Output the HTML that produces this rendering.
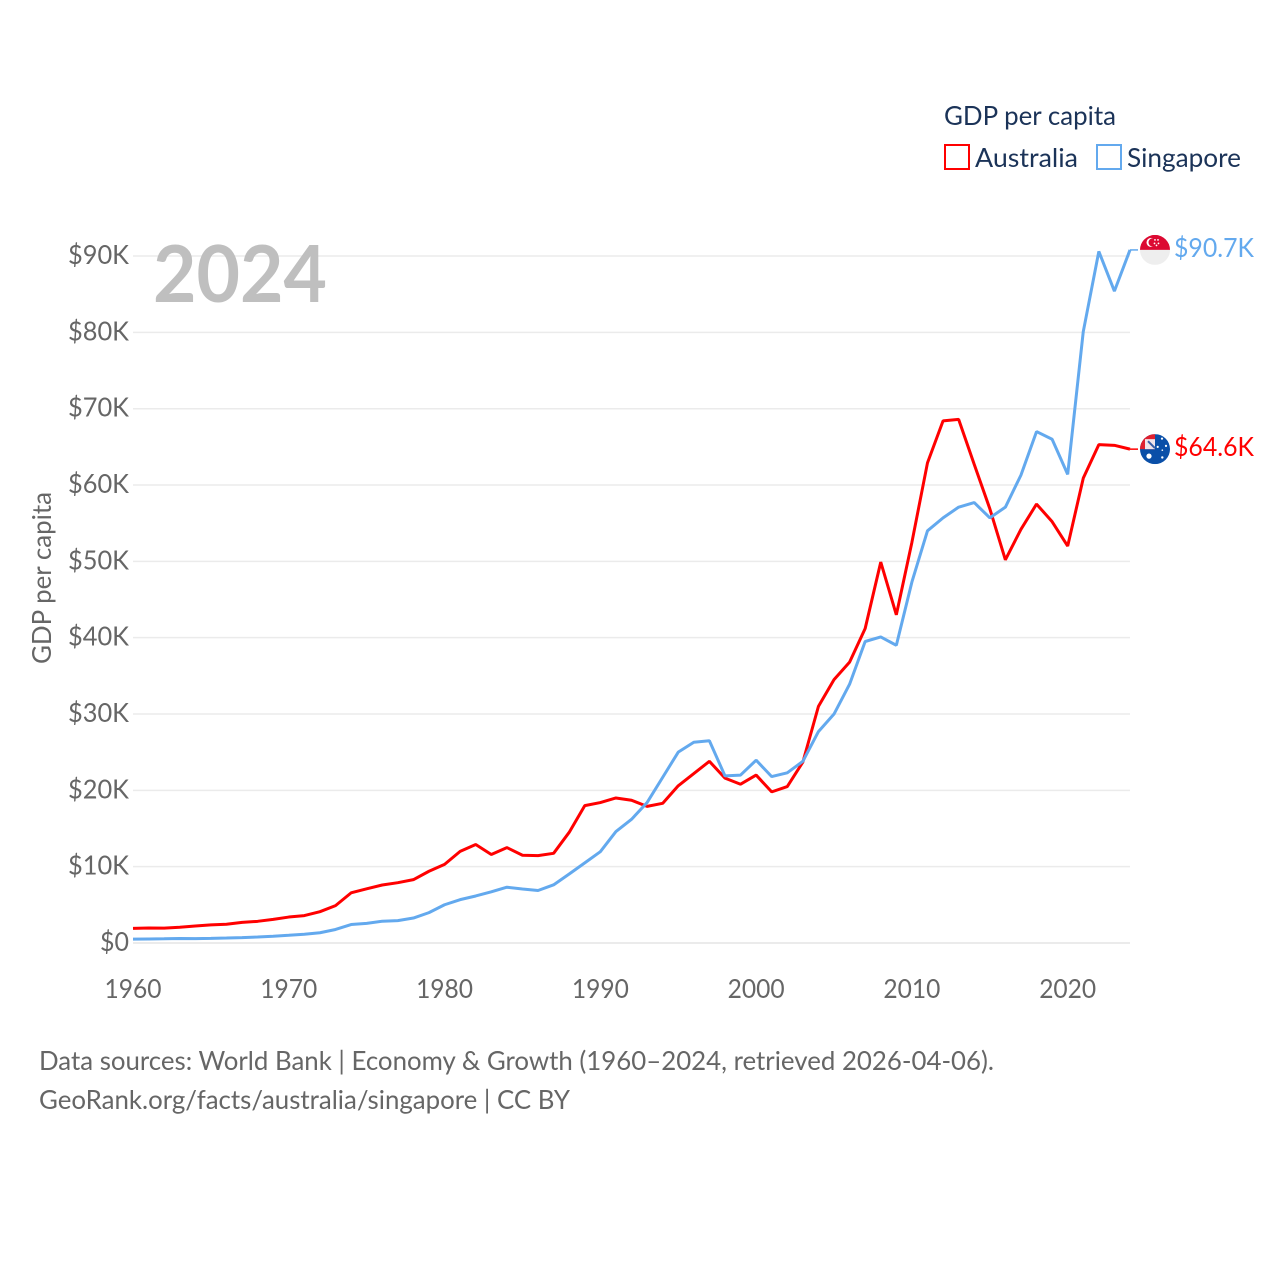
<!DOCTYPE html>
<html lang="en">
<head>
<meta charset="utf-8">
<title>GDP per capita: Australia vs Singapore</title>
<style>
html,body{margin:0;padding:0;background:#fff;}
svg{display:block;font-family:Lato,Carlito,"Liberation Sans",sans-serif;}
</style>
</head>
<body>
<svg id="chart" width="1280" height="1280" viewBox="0 0 1280 1280" xmlns="http://www.w3.org/2000/svg">
  <defs>
    <clipPath id="flag-clip"><circle cx="0" cy="0" r="15"></circle></clipPath>
  </defs>
  <rect x="0" y="0" width="1280" height="1280" fill="#ffffff"></rect>

  <g id="grid"></g>
  <g id="yticks"></g>
  <g id="xticks"></g>

  <text x="153" y="302" font-size="79" font-weight="700" fill="#bfbfbf" textLength="174" lengthAdjust="spacingAndGlyphs">2024</text>

  <text transform="translate(51 578) rotate(-90)" text-anchor="middle" font-size="26.5" fill="#666666" textLength="172" lengthAdjust="spacingAndGlyphs">GDP per capita</text>

  <g id="series"></g>
  <g id="ends"></g>

  <g>
    <text x="944" y="125" font-size="26.5" fill="#1b3358" textLength="172" lengthAdjust="spacingAndGlyphs">GDP per capita</text>
    <g>
      <rect x="945" y="145" width="24" height="24" fill="#ffffff" stroke="#ff0000" stroke-width="2"></rect>
      <text x="975" y="167" font-size="26.5" fill="#1b3358" textLength="103" lengthAdjust="spacingAndGlyphs">Australia</text>
    </g>
    <g>
      <rect x="1097" y="145" width="24" height="24" fill="#ffffff" stroke="#63a9ee" stroke-width="2"></rect>
      <text x="1127" y="167" font-size="26.5" fill="#1b3358" textLength="114" lengthAdjust="spacingAndGlyphs">Singapore</text>
    </g>
  </g>

  <text x="39" y="1070" font-size="26.5" fill="#666666" textLength="955" lengthAdjust="spacingAndGlyphs">Data sources: World Bank | Economy &amp; Growth (1960–2024, retrieved 2026-04-06).</text>
  <text x="39" y="1109" font-size="26.5" fill="#666666" textLength="531" lengthAdjust="spacingAndGlyphs">GeoRank.org/facts/australia/singapore | CC BY</text>
</svg>

<script>
const firstYear = 1960;
const lastYear = 2024;
const yTickValues = [0, 10, 20, 30, 40, 50, 60, 70, 80, 90];
const yTickLabels = ["$0", "$10K", "$20K", "$30K", "$40K", "$50K", "$60K", "$70K", "$80K", "$90K"];
const xTickYears = [1960, 1970, 1980, 1990, 2000, 2010, 2020];
const australiaValues = [1.91, 1.96, 1.95, 2.07, 2.23, 2.38, 2.46, 2.7, 2.84, 3.1,
  3.4, 3.59, 4.1, 4.9, 6.57, 7.1, 7.6, 7.9, 8.3, 9.4,
  10.3, 12.0, 12.9, 11.6, 12.5, 11.5, 11.45, 11.75, 14.5, 18.0,
  18.4, 19.0, 18.7, 17.9, 18.3, 20.6, 22.2, 23.8, 21.6, 20.8,
  22.0, 19.8, 20.5, 23.7, 31.0, 34.5, 36.8, 41.2, 49.9, 43.0,
  52.5, 62.9, 68.4, 68.6, 62.7, 56.9, 50.2, 54.2, 57.5, 55.2,
  52.0, 60.9, 65.3, 65.2, 64.7];
const singaporeValues = [0.5, 0.53, 0.55, 0.59, 0.57, 0.6, 0.65, 0.71, 0.79, 0.89,
  1.01, 1.15, 1.34, 1.77, 2.42, 2.57, 2.85, 2.93, 3.27, 3.98,
  5.01, 5.68, 6.16, 6.71, 7.31, 7.08, 6.88, 7.62, 9.04, 10.5,
  11.96, 14.6, 16.2, 18.4, 21.7, 25.0, 26.3, 26.5, 21.9, 22.0,
  23.95, 21.8, 22.3, 23.8, 27.7, 30.0, 33.9, 39.5, 40.1, 39.0,
  47.3, 54.0, 55.7, 57.1, 57.7, 55.7, 57.1, 61.3, 67.0, 66.0,
  61.4, 80.1, 90.6, 85.4, 90.8];
const australiaEndLabel = "$64.6K";
const singaporeEndLabel = "$90.7K";

const NS = "http://www.w3.org/2000/svg";
const plotLeft = 133, plotRight = 1130, plotBottom = 943, pxPerK = 7.633;
function xScale(year) { return plotLeft + (year - firstYear) * (plotRight - plotLeft) / (lastYear - firstYear); }
function yScale(k) { return plotBottom - k * pxPerK; }
function make(tag, attrs, parent) {
  const el = document.createElementNS(NS, tag);
  for (const key in attrs) el.setAttribute(key, attrs[key]);
  parent.appendChild(el);
  return el;
}
const gridGroup = document.getElementById("grid");
const yGroup = document.getElementById("yticks");
const xGroup = document.getElementById("xticks");
const seriesGroup = document.getElementById("series");
const endsGroup = document.getElementById("ends");

yTickValues.forEach(function (v, i) {
  const line = make("line", {x1: plotLeft, x2: plotRight, y1: yScale(v), y2: yScale(v), stroke: "#ebebeb", "stroke-width": i === 0 ? 2 : 1.5}, gridGroup);
  
  
  const label = yTickLabels[i];
  const t = make("text", {x: 129, y: yScale(v) + 8, "text-anchor": "end", "font-size": 26.5, fill: "#666666", textLength: label.length === 2 ? 29 : 61, lengthAdjust: "spacingAndGlyphs"}, yGroup);
  t.textContent = label;
  
  
});

xTickYears.forEach(function (year) {
  const t = make("text", {x: xScale(year), y: 998, "text-anchor": "middle", "font-size": 26.5, fill: "#666666", textLength: 57, lengthAdjust: "spacingAndGlyphs"}, xGroup);
  t.textContent = String(year);
  
  
});

function linePath(values) {
  return values.map(function (v, i) {
    return (i ? "L" : "M") + xScale(firstYear + i).toFixed(2) + " " + yScale(v).toFixed(2);
  }).join(" ");
}
const australiaLine = make("path", {d: linePath(australiaValues), fill: "none", stroke: "#ff0000", "stroke-width": 3, "stroke-linejoin": "bevel"}, seriesGroup);


const singaporeLine = make("path", {d: linePath(singaporeValues), fill: "none", stroke: "#63a9ee", "stroke-width": 3, "stroke-linejoin": "bevel"}, seriesGroup);



const ausEndY = yScale(australiaValues[australiaValues.length - 1]);
const sgpEndY = yScale(singaporeValues[singaporeValues.length - 1]);

const ausConnector = make("line", {x1: plotRight, x2: 1138, y1: ausEndY, y2: ausEndY, stroke: "#ff0000", "stroke-width": 1.5}, endsGroup);


const sgpConnector = make("line", {x1: plotRight, x2: 1138, y1: sgpEndY, y2: sgpEndY, stroke: "#63a9ee", "stroke-width": 1.5}, endsGroup);



const sgFlag = make("g", {transform: "translate(1155 " + sgpEndY + ")", "clip-path": "url(#flag-clip)"}, endsGroup);


make("rect", {x: -15, y: -15, width: 30, height: 15, fill: "#dc0a32"}, sgFlag);
make("rect", {x: -15, y: 0, width: 30, height: 15, fill: "#eeeeee"}, sgFlag);
make("circle", {cx: -4, cy: -7.5, r: 4.5, fill: "#ffffff"}, sgFlag);
make("circle", {cx: -2.3, cy: -7.5, r: 4.2, fill: "#dc0a32"}, sgFlag);
make("circle", {cx: 0, cy: -10, r: 0.9, fill: "#ffffff"}, sgFlag);
make("circle", {cx: 3, cy: -10, r: 0.9, fill: "#ffffff"}, sgFlag);
make("circle", {cx: -0.5, cy: -6.5, r: 0.9, fill: "#ffffff"}, sgFlag);
make("circle", {cx: 3.5, cy: -6.5, r: 0.9, fill: "#ffffff"}, sgFlag);
make("circle", {cx: 1.5, cy: -4.5, r: 0.9, fill: "#ffffff"}, sgFlag);

const auFlag = make("g", {transform: "translate(1155 " + ausEndY + ")", "clip-path": "url(#flag-clip)"}, endsGroup);


make("rect", {x: -15, y: -15, width: 30, height: 30, fill: "#0a4fa8"}, auFlag);
make("rect", {x: -15, y: -15, width: 15, height: 15, fill: "#e0202f"}, auFlag);
make("rect", {x: -10, y: -10, width: 10, height: 10, fill: "#f0e4ea"}, auFlag);
make("line", {x1: -7, y1: -8, x2: 0, y2: -1, stroke: "#3a5fa8", "stroke-width": 2}, auFlag);
make("circle", {cx: -6, cy: 7, r: 2.6, fill: "#ffffff"}, auFlag);
make("circle", {cx: 7, cy: -10.5, r: 1.1, fill: "#ffffff"}, auFlag);
make("circle", {cx: 2.7, cy: -2.3, r: 1.1, fill: "#ffffff"}, auFlag);
make("circle", {cx: 11, cy: -3.3, r: 1.1, fill: "#ffffff"}, auFlag);
make("circle", {cx: 7.3, cy: 1, r: 0.8, fill: "#ffffff"}, auFlag);
make("circle", {cx: 7.3, cy: 8.3, r: 1.2, fill: "#ffffff"}, auFlag);

const ausLabel = make("text", {x: 1174, y: ausEndY + 7, "font-size": 26.5, fill: "#ff0000", textLength: 80, lengthAdjust: "spacingAndGlyphs"}, endsGroup);
ausLabel.textContent = australiaEndLabel;


const sgpLabel = make("text", {x: 1174, y: sgpEndY + 7, "font-size": 26.5, fill: "#63a9ee", textLength: 80, lengthAdjust: "spacingAndGlyphs"}, endsGroup);
sgpLabel.textContent = singaporeEndLabel;


</script>
</body>
</html>
